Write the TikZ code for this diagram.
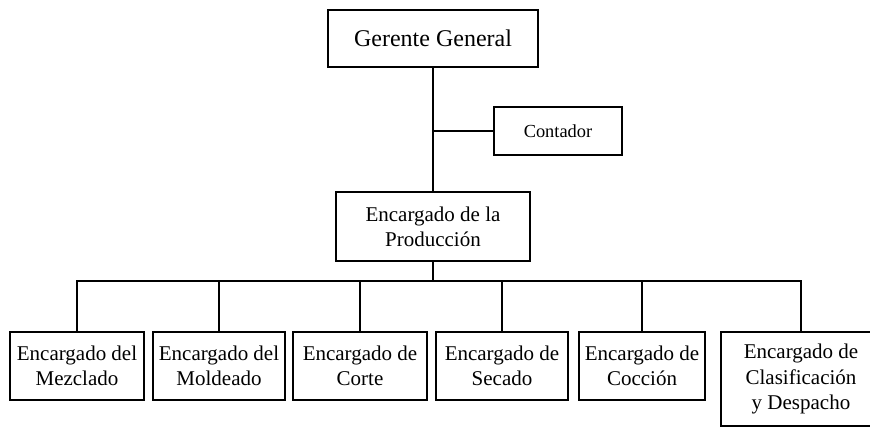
\documentclass[tikz,border=0pt]{standalone}
\usepackage{fontspec}
\setmainfont{Liberation Serif}
\begin{document}
\begin{tikzpicture}[
  x=0.75pt, y=-0.75pt,
  line width=1.3pt,
  orgbox/.style={rectangle, draw, line width=1.3pt, inner sep=0pt, align=center, text centered, font=\fontsize{15.75}{19}\selectfont},
  bigbox/.style={orgbox, font=\fontsize{18}{21}\selectfont},
  smallbox/.style={orgbox, font=\fontsize{13.8}{16}\selectfont}
]
\useasboundingbox (0,0) rectangle (870,428);

% Top nodes
\node[bigbox, minimum width=158pt, minimum height=43pt] (gerente) at (433, 38.5) {Gerente General};
\node[smallbox, minimum width=96pt, minimum height=36pt] (contador) at (558, 131) {Contador};
\node[orgbox, minimum width=146pt, minimum height=52pt] (produccion) at (433, 226.5) {Encargado de la\\Producción};

% Bottom nodes
\node[orgbox, minimum width=100pt, minimum height=51pt] (mezclado) at (77, 366) {Encargado del\\Mezclado};
\node[orgbox, minimum width=99pt, minimum height=51pt] (moldeado) at (219, 366) {Encargado del\\Moldeado};
\node[orgbox, minimum width=100pt, minimum height=51pt] (corte) at (360, 366) {Encargado de\\Corte};
\node[orgbox, minimum width=99pt, minimum height=51pt] (secado) at (502, 366) {Encargado de\\Secado};
\node[orgbox, minimum width=95pt, minimum height=51pt] (coccion) at (642, 366) {Encargado de\\Cocción};
\node[orgbox, minimum width=120pt, minimum height=70pt] (despacho) at (801, 379) {Encargado de\\Clasificación\\y Despacho};

% Lines
\coordinate (rama) at (433, 131);
\coordinate (bus) at (433, 281);
\draw (gerente.south) -- (produccion.north);
\draw (rama) -- (contador.west);
\draw (produccion.south) -- (bus);
\draw (bus) -| (mezclado.north);
\draw (bus) -| (moldeado.north);
\draw (bus) -| (corte.north);
\draw (bus) -| (secado.north);
\draw (bus) -| (coccion.north);
\draw (bus) -| (despacho.north);

\end{tikzpicture}
\end{document}
